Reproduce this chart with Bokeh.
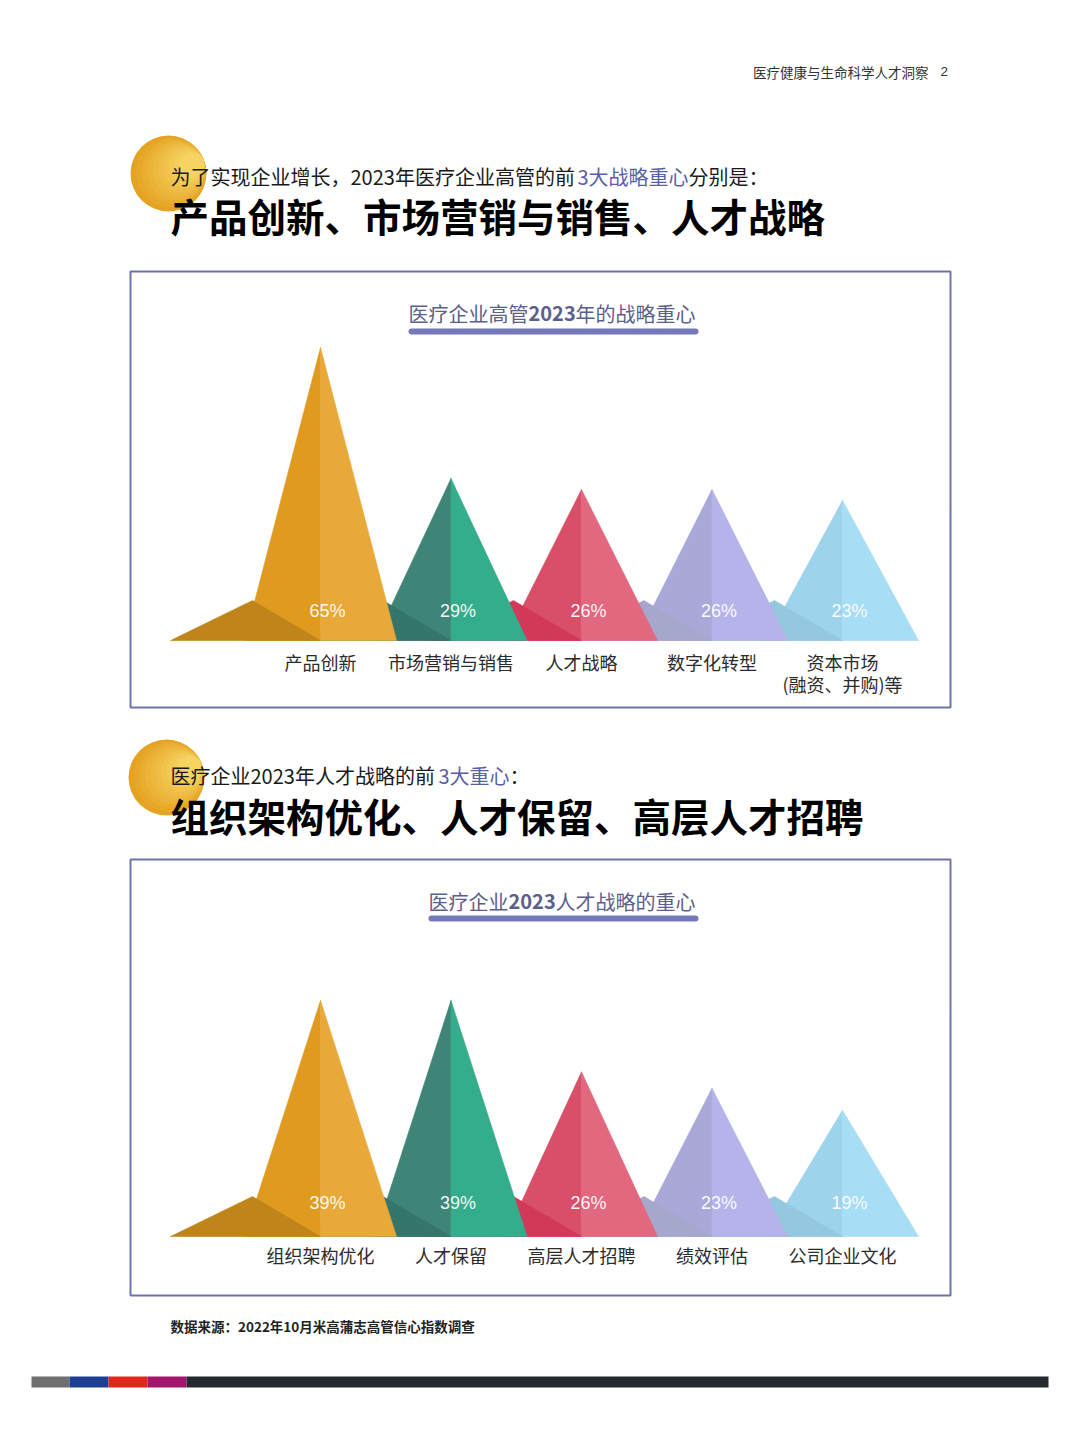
import numpy as np
from bokeh.plotting import figure
from bokeh.layouts import column
from bokeh.models import Range1d
from bokeh.core.properties import value
from bokeh.embed import file_html
from bokeh.resources import INLINE

# ---------------- data ----------------
HEADER_RIGHT = "医疗健康与生命科学人才洞察"
PAGE_NO = "2"

SUB1 = ["为了实现企业增长，2023年医疗企业高管的前", "3大战略重心", "分别是："]
TITLE1 = "产品创新、市场营销与销售、人才战略"
CHART1_TITLE = ["医疗企业高管", "2023", "年的战略重心"]
cats1 = ["产品创新", "市场营销与销售", "人才战略", "数字化转型", "资本市场\n(融资、并购)等"]
vals1 = [65, 29, 26, 26, 23]

SUB2 = ["医疗企业2023年人才战略的前", "3大重心", "："]
TITLE2 = "组织架构优化、人才保留、高层人才招聘"
CHART2_TITLE = ["医疗企业", "2023", "人才战略的重心"]
cats2 = ["组织架构优化", "人才保留", "高层人才招聘", "绩效评估", "公司企业文化"]
vals2 = [39, 39, 26, 23, 19]

SOURCE = "数据来源：2022年10月米高蒲志高管信心指数调查"

# ---------------- styles / layout ----------------
CJK = "Noto Sans CJK SC"
LAT = "Liberation Sans"
FACE_L = ["#e09a1f", "#3f8577", "#d94f69", "#a9a8d8", "#9ed3ec"]
FACE_R = ["#e8a93a", "#33ad8c", "#e1687f", "#b5b3ea", "#a7ddf5"]
SHADOW = ["#c0851a", "#36756a", "#d2385a", "#a6a7cc", "#93c8de"]
PURPLE = "#5a5ea8"
TITLE_COL = "#5c5e8c"
LINE_COL = "#7579b9"
BOX_COL = "#7072aa"
BAR_COLORS = ["#6f6f6f", "#1d3f93", "#e1261c", "#a2176b", "#252a30"]
BAR_EDGES = [31, 69, 108, 147, 186, 1048]

W = 1080
SPACING = 130.5      # px between pyramid centres
CX0 = 320            # page x of first pyramid
HALF_W = 76          # px half base of pyramid
SH_FAR = 150         # px shadow reach to the left
SH_DX = 68           # px shadow apex offset
SH_H = 40            # px shadow apex height


def make_fig(h, xr, yr):
    p = figure(width=W, height=h, x_range=xr, y_range=yr,
               toolbar_location=None, output_backend="svg",
               x_axis_location=None, y_axis_location=None, min_border=0)
    for g in p.grid:
        g.visible = False
    p.outline_line_color = None
    p.background_fill_color = "white"
    p.border_fill_color = "white"
    return p


def txt(p, x, y, s, size, color, bold=False, align="left", baseline="middle", font=CJK):
    p.text(x=[x], y=[y], text=[s], text_font=value(font), text_font_size=f"{size}px",
           text_color=color, text_align=align, text_baseline=baseline,
           text_font_style="bold" if bold else "normal")


def gold_circle(p, cx, cy, r):
    c0 = np.array([0xe5, 0xa3, 0x22])
    c1 = np.array([0xf7, 0xd3, 0x62])
    n = 10
    for j in range(n):
        t = j / (n - 1)
        col = "#%02x%02x%02x" % tuple((c0 + (c1 - c0) * t).astype(int))
        rr = r * (1 - j * 0.075)
        d = r - rr
        p.scatter([cx + d * 0.9], [cy - d * 0.35], size=2 * rr, color=col, line_color=None)


def header(top, bot, circ, sub, sub_x, sub_y, title, title_y, with_page=False):
    p = make_fig(bot - top, Range1d(0, W), Range1d(bot, top))
    if with_page:
        txt(p, 928, 71, HEADER_RIGHT, 13.5, "#333333", align="right")
        txt(p, 940, 71, PAGE_NO, 13.5, "#333333", font=LAT)
    gold_circle(p, circ[0], circ[1], 38)
    cols = ["#1a1a1a", PURPLE, "#1a1a1a"]
    for s, x, c in zip(sub, sub_x, cols):
        txt(p, x, sub_y, s, 20, c)
    txt(p, 170, title_y, title, 38.5, "#000000", bold=True)
    return p


def chart(vals, cats, tparts, c, k, base, top, bot, box_top, box_bot,
          title_y, line_y, tx0, tx1, first_w, pct_dy, lab_dy):
    sx = lambda X: (X - CX0) / SPACING
    sy = lambda Y: -c + (base - Y) / k
    p = make_fig(bot - top, Range1d(sx(0), sx(W)), Range1d(sy(bot), sy(top)))

    # box
    p.quad(left=[sx(130)], right=[sx(950)], top=[sy(box_top)], bottom=[sy(box_bot)],
           fill_color=None, line_color=BOX_COL, line_width=2)

    # chart title
    txt(p, sx(tx0), sy(title_y), tparts[0], 20, TITLE_COL)
    txt(p, sx(tx0 + first_w), sy(title_y), tparts[1], 20, TITLE_COL, bold=True)
    txt(p, sx(tx0 + first_w + 47), sy(title_y), tparts[2], 20, TITLE_COL)
    p.line([sx(tx0 + 3), sx(tx1 - 3)], [sy(line_y)] * 2, line_width=6,
           line_color=LINE_COL, line_cap="round")

    # pyramids (drawn right to left so each covers the next one's shadow)
    n = len(vals)
    bv = -c
    hw = HALF_W / SPACING
    sfar = SH_FAR / SPACING
    sdx = SH_DX / SPACING
    sh = SH_H / k
    xs, ys, fc = [], [], []
    for i in reversed(range(n)):
        cx = float(i)
        tv = vals[i]
        xs += [[cx, cx - hw, cx], [cx - sfar, cx - sdx, cx], [cx, cx, cx + hw]]
        ys += [[tv, bv, bv], [bv, bv + sh, bv], [tv, bv, bv]]
        fc += [FACE_L[i], SHADOW[i], FACE_R[i]]
    p.patches(xs, ys, fill_color=fc, line_color=fc, line_width=0.6)

    idx = list(range(n))
    p.text(x=idx, y=[bv] * n, text=[f"{v}%" for v in vals], x_offset=7, y_offset=pct_dy,
           text_font=value(LAT), text_font_size="18px", text_color="#ffffff",
           text_align="center", text_baseline="middle", text_alpha=0.95)
    p.text(x=idx, y=[bv] * n, text=cats, y_offset=lab_dy,
           text_font=value(CJK), text_font_size="18px", text_color="#2b2b2b",
           text_align="center", text_baseline="top", text_line_height=0.85)
    return p


h1 = header(0, 262, (168, 173), SUB1, [170, 577, 688], 176, TITLE1, 214, with_page=True)
c1 = chart(vals1, cats1, CHART1_TITLE, 15.5, 293 / 80.5, 640, 262, 715, 271, 707,
           313, 331, 408, 698, 120, -30, 8)
h2 = header(715, 852, (166, 777), SUB2, [170, 438, 509], 775, TITLE2, 814)
c2 = chart(vals2, cats2, CHART2_TITLE, 4.0, 236 / 43, 1236, 852, 1302, 859, 1295,
           901, 918, 428, 698, 80, -34, 5)

f = make_fig(134, Range1d(0, W), Range1d(1436, 1302))
txt(f, 170, 1325, SOURCE, 13.5, "#222222", bold=True)
f.quad(left=BAR_EDGES[:-1], right=BAR_EDGES[1:], top=1376, bottom=1387,
       fill_color=BAR_COLORS, line_color=None)

page = column(h1, c1, h2, c2, f, spacing=0)
open("out.html", "w").write(file_html(page, INLINE))
